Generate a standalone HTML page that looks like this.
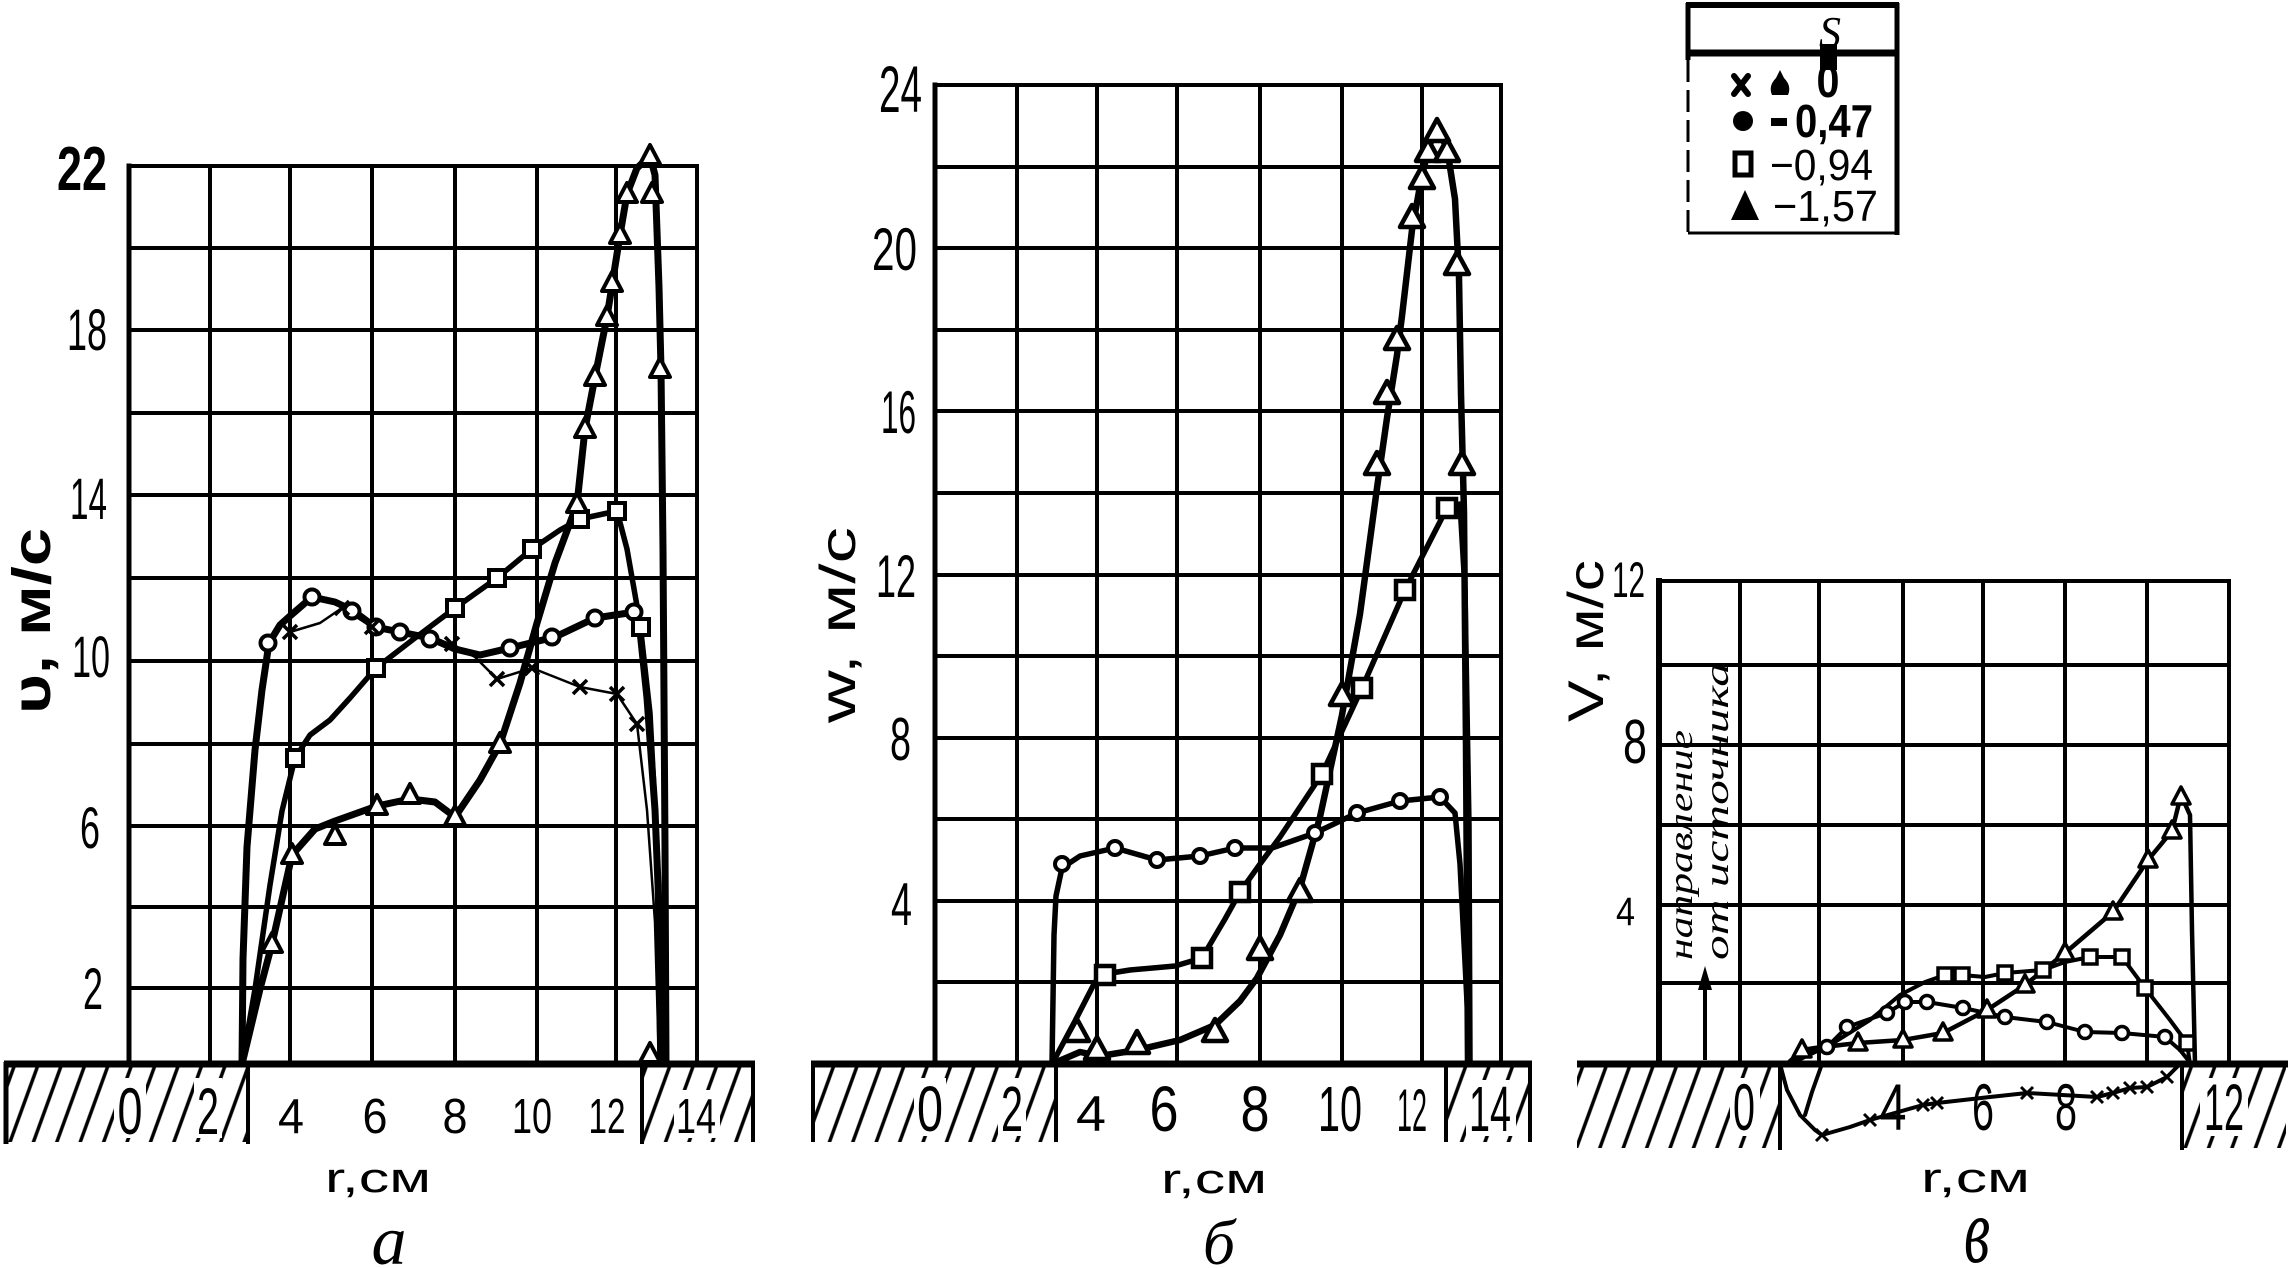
<!DOCTYPE html>
<html>
<head>
<meta charset="utf-8">
<style>
html,body{margin:0;padding:0;background:#fff;}
svg{display:block;}
</style>
</head>
<body>
<svg width="2292" height="1268" viewBox="0 0 2292 1268" xmlns="http://www.w3.org/2000/svg" xmlns:xlink="http://www.w3.org/1999/xlink" font-family="'Liberation Sans', 'DejaVu Sans', sans-serif">
<defs>
  <pattern id="h" patternUnits="userSpaceOnUse" width="22" height="22" patternTransform="rotate(20)">
    <line x1="4" y1="-2" x2="4" y2="24" stroke="#000" stroke-width="3.5"/>
  </pattern>
  <circle id="mc" cx="0" cy="0" r="7.5" fill="#fff" stroke="#000" stroke-width="4"/>
  <rect id="ms" x="-8" y="-8" width="16" height="16" fill="#fff" stroke="#000" stroke-width="4"/>
  <polygon id="mt" points="0,-11 10,8 -10,8" fill="#fff" stroke="#000" stroke-width="4" stroke-linejoin="round"/>
  <g id="mx"><line x1="-7" y1="-7" x2="7" y2="7" stroke="#000" stroke-width="3.5"/><line x1="-7" y1="7" x2="7" y2="-7" stroke="#000" stroke-width="3.5"/></g>
  <rect id="ms2" x="-9" y="-9" width="18" height="18" fill="#fff" stroke="#000" stroke-width="4.5"/>
  <polygon id="mt2" points="0,-13 12,9 -12,9" fill="#fff" stroke="#000" stroke-width="4.5" stroke-linejoin="round"/>
  <circle id="mc2" cx="0" cy="0" r="7" fill="#fff" stroke="#000" stroke-width="4"/>
  <circle id="mc3" cx="0" cy="0" r="6.5" fill="#fff" stroke="#000" stroke-width="3.5"/>
  <rect id="ms3" x="-7" y="-7" width="14" height="14" fill="#fff" stroke="#000" stroke-width="3.5"/>
  <polygon id="mt3" points="0,-10 9,7 -9,7" fill="#fff" stroke="#000" stroke-width="3.5" stroke-linejoin="round"/>
  <g id="mx3"><line x1="-6" y1="-6" x2="6" y2="6" stroke="#000" stroke-width="3"/><line x1="-6" y1="6" x2="6" y2="-6" stroke="#000" stroke-width="3"/></g>
</defs>
<rect width="2292" height="1268" fill="#fff"/>

<!-- ================= HATCHED BASES ================= -->
<g>
  <rect x="6" y="1064" width="242" height="78" fill="url(#h)"/>
  <rect x="642" y="1064" width="111" height="78" fill="url(#h)"/>
  <rect x="813" y="1064" width="243" height="78" fill="url(#h)"/>
  <rect x="1446" y="1064" width="84" height="78" fill="url(#h)"/>
  <rect x="1577" y="1064" width="203" height="84" fill="url(#h)"/>
  <rect x="2182" y="1064" width="104" height="84" fill="url(#h)"/>
  <rect x="114" y="1078" width="32" height="60" fill="#fff"/>
  <rect x="194" y="1078" width="28" height="60" fill="#fff"/>
  <rect x="674" y="1090" width="46" height="48" fill="#fff"/>
  <rect x="914" y="1078" width="32" height="58" fill="#fff"/>
  <rect x="998" y="1078" width="28" height="58" fill="#fff"/>
  <rect x="1466" y="1080" width="50" height="56" fill="#fff"/>
  <rect x="1730" y="1078" width="30" height="58" fill="#fff"/>
  <rect x="2200" y="1078" width="48" height="58" fill="#fff"/>
  <g stroke="#000" fill="none">
    <line x1="6" y1="1062" x2="6" y2="1144" stroke-width="5"/>
    <line x1="248" y1="1062" x2="248" y2="1144" stroke-width="4"/>
    <line x1="642" y1="1062" x2="642" y2="1144" stroke-width="4"/>
    <line x1="753" y1="1062" x2="753" y2="1142" stroke-width="4"/>
    <line x1="813" y1="1062" x2="813" y2="1142" stroke-width="4"/>
    <line x1="1056" y1="1062" x2="1056" y2="1142" stroke-width="4"/>
    <line x1="1446" y1="1062" x2="1446" y2="1142" stroke-width="4"/>
    <line x1="1530" y1="1062" x2="1530" y2="1142" stroke-width="4"/>
    <line x1="1780" y1="1062" x2="1780" y2="1150" stroke-width="4"/>
    <line x1="2182" y1="1062" x2="2182" y2="1150" stroke-width="4"/>
    <line x1="4" y1="1064" x2="755" y2="1064" stroke-width="7"/>
    <line x1="811" y1="1064" x2="1532" y2="1064" stroke-width="7"/>
    <line x1="1577" y1="1064" x2="2288" y2="1064" stroke-width="7"/>
  </g>
</g>

<!-- ================= GRID a ================= -->
<g stroke="#000" stroke-width="4" fill="none" stroke-linecap="square">
  <line x1="129" y1="166" x2="129" y2="1064" stroke-width="5"/>
  <line x1="210" y1="166" x2="210" y2="1064"/>
  <line x1="290" y1="166" x2="290" y2="1064"/>
  <line x1="372" y1="166" x2="372" y2="1064"/>
  <line x1="455" y1="166" x2="455" y2="1064"/>
  <line x1="537" y1="166" x2="537" y2="1064"/>
  <line x1="616" y1="166" x2="616" y2="1064"/>
  <line x1="697" y1="166" x2="697" y2="1064"/>
  <line x1="129" y1="166" x2="697" y2="166"/>
  <line x1="129" y1="248" x2="697" y2="248"/>
  <line x1="129" y1="330" x2="697" y2="330"/>
  <line x1="129" y1="413" x2="697" y2="413"/>
  <line x1="129" y1="495" x2="697" y2="495"/>
  <line x1="129" y1="578" x2="697" y2="578"/>
  <line x1="129" y1="661" x2="697" y2="661"/>
  <line x1="129" y1="744" x2="697" y2="744"/>
  <line x1="129" y1="826" x2="697" y2="826"/>
  <line x1="129" y1="907" x2="697" y2="907"/>
  <line x1="129" y1="988" x2="697" y2="988"/>
</g>

<!-- ================= GRID б ================= -->
<g stroke="#000" stroke-width="4" fill="none" stroke-linecap="square">
  <line x1="935" y1="85" x2="935" y2="1064" stroke-width="5"/>
  <line x1="1017" y1="85" x2="1017" y2="1064"/>
  <line x1="1097" y1="85" x2="1097" y2="1064"/>
  <line x1="1177" y1="85" x2="1177" y2="1064"/>
  <line x1="1260" y1="85" x2="1260" y2="1064"/>
  <line x1="1342" y1="85" x2="1342" y2="1064"/>
  <line x1="1422" y1="85" x2="1422" y2="1064"/>
  <line x1="1501" y1="85" x2="1501" y2="1064"/>
  <line x1="935" y1="85" x2="1501" y2="85"/>
  <line x1="935" y1="167" x2="1501" y2="167"/>
  <line x1="935" y1="248" x2="1501" y2="248"/>
  <line x1="935" y1="330" x2="1501" y2="330"/>
  <line x1="935" y1="411" x2="1501" y2="411"/>
  <line x1="935" y1="493" x2="1501" y2="493"/>
  <line x1="935" y1="575" x2="1501" y2="575"/>
  <line x1="935" y1="656" x2="1501" y2="656"/>
  <line x1="935" y1="738" x2="1501" y2="738"/>
  <line x1="935" y1="819" x2="1501" y2="819"/>
  <line x1="935" y1="901" x2="1501" y2="901"/>
  <line x1="935" y1="982" x2="1501" y2="982"/>
</g>

<!-- ================= GRID в ================= -->
<g stroke="#000" stroke-width="4" fill="none" stroke-linecap="square">
  <line x1="1659" y1="581" x2="1659" y2="1064" stroke-width="6"/>
  <line x1="1740" y1="581" x2="1740" y2="1064"/>
  <line x1="1819" y1="581" x2="1819" y2="1064"/>
  <line x1="1903" y1="581" x2="1903" y2="1064"/>
  <line x1="1983" y1="581" x2="1983" y2="1064"/>
  <line x1="2065" y1="581" x2="2065" y2="1064"/>
  <line x1="2147" y1="581" x2="2147" y2="1064"/>
  <line x1="2229" y1="581" x2="2229" y2="1064"/>
  <line x1="1659" y1="581" x2="2229" y2="581"/>
  <line x1="1659" y1="665" x2="2229" y2="665"/>
  <line x1="1659" y1="745" x2="2229" y2="745"/>
  <line x1="1659" y1="825" x2="2229" y2="825"/>
  <line x1="1659" y1="905" x2="2229" y2="905"/>
  <line x1="1659" y1="983" x2="2229" y2="983"/>
</g>

<!-- ================= CURVES a ================= -->
<g fill="none" stroke="#000" stroke-linejoin="round" stroke-linecap="round">
  <polyline stroke-width="7" points="242,1064 243,959 247,847 255,750 262,690 269,643 280,625 290,616 312,597 335,602 352,610 375,627 400,632 430,638 455,649 480,655 510,648 555,637 595,618 635,612 640,631 647,698 655,810 661,959 662,1064"/>
  <polyline stroke-width="2.5" points="290,632 320,623 342,608 372,627 400,634 430,640 452,644 475,657 497,679 532,668 580,687 617,694 637,724 647,810 655,922 659,1064"/>
  <polyline stroke-width="5.5" points="242,1064 255,989 270,885 282,811 295,758 310,735 330,720 350,698 376,668 415,638 455,608 497,578 532,549 560,530 580,519 617,511 627,549 640,623 650,713 657,847 660,1064"/>
  <polyline stroke-width="7" points="242,1064 260,989 272,944 292,855 315,829 335,821 377,806 410,799 435,802 455,817 480,780 500,744 520,683 537,623 555,563 577,504 585,429 595,377 607,317 620,235 627,194 637,168 650,156 655,175 659,287 661,369 663,549 665,847 666,1064"/>
</g>
<g>
  <use href="#mc" x="268" y="643"/><use href="#mc" x="312" y="597"/><use href="#mc" x="352" y="611"/>
  <use href="#mc" x="376" y="627"/><use href="#mc" x="400" y="632"/><use href="#mc" x="430" y="639"/>
  <use href="#mc" x="510" y="648"/><use href="#mc" x="552" y="637"/><use href="#mc" x="595" y="618"/>
  <use href="#mc" x="634" y="612"/>
  <use href="#mx" x="290" y="632"/><use href="#mx" x="342" y="608"/><use href="#mx" x="372" y="627"/>
  <use href="#mx" x="452" y="644"/><use href="#mx" x="497" y="679"/><use href="#mx" x="532" y="668"/>
  <use href="#mx" x="580" y="687"/><use href="#mx" x="617" y="694"/><use href="#mx" x="637" y="724"/>
  <use href="#ms" x="295" y="758"/><use href="#ms" x="376" y="668"/><use href="#ms" x="455" y="608"/>
  <use href="#ms" x="497" y="578"/><use href="#ms" x="532" y="549"/><use href="#ms" x="580" y="519"/>
  <use href="#ms" x="617" y="511"/><use href="#ms" x="641" y="627"/>
  <use href="#mt" x="272" y="944"/><use href="#mt" x="292" y="855"/><use href="#mt" x="335" y="836"/>
  <use href="#mt" x="377" y="806"/><use href="#mt" x="410" y="795"/><use href="#mt" x="455" y="817"/>
  <use href="#mt" x="500" y="744"/><use href="#mt" x="577" y="504"/><use href="#mt" x="585" y="429"/>
  <use href="#mt" x="595" y="377"/><use href="#mt" x="607" y="317"/><use href="#mt" x="612" y="283"/>
  <use href="#mt" x="620" y="235"/><use href="#mt" x="627" y="194"/><use href="#mt" x="650" y="156"/>
  <use href="#mt" x="652" y="194"/><use href="#mt" x="660" y="369"/><use href="#mt" x="650" y="1054"/>
</g>

<!-- ================= CURVES б ================= -->
<g fill="none" stroke="#000" stroke-linejoin="round" stroke-linecap="round">
  <polyline stroke-width="5.5" points="1052,1064 1054,935 1056,896 1062,868 1080,856 1115,848 1157,860 1200,856 1235,848 1272,848 1315,833 1357,813 1400,801 1440,797 1455,813 1460,864 1466,982 1470,1064"/>
  <polyline stroke-width="5.5" points="1052,1064 1075,1021 1095,982 1105,974 1130,970 1175,966 1202,958 1225,919 1240,892 1260,864 1280,837 1322,774 1362,688 1405,590 1447,508 1460,504 1465,590 1469,825 1470,1064"/>
  <polyline stroke-width="6.5" points="1052,1064 1080,1052 1100,1056 1137,1050 1180,1040 1215,1025 1240,1001 1257,978 1280,935 1300,888 1320,817 1342,715 1360,614 1377,488 1387,418 1397,355 1402,316 1412,230 1422,175 1430,144 1437,128 1447,148 1455,199 1459,277 1461,394 1464,512 1466,747 1468,1064"/>
</g>
<g>
  <use href="#mc2" x="1062" y="864"/><use href="#mc2" x="1115" y="848"/><use href="#mc2" x="1157" y="860"/>
  <use href="#mc2" x="1200" y="856"/><use href="#mc2" x="1235" y="848"/><use href="#mc2" x="1315" y="833"/>
  <use href="#mc2" x="1357" y="813"/><use href="#mc2" x="1400" y="801"/><use href="#mc2" x="1440" y="797"/>
  <use href="#ms2" x="1105" y="975"/><use href="#ms2" x="1202" y="958"/><use href="#ms2" x="1240" y="892"/>
  <use href="#ms2" x="1322" y="774"/><use href="#ms2" x="1362" y="688"/><use href="#ms2" x="1405" y="590"/>
  <use href="#ms2" x="1447" y="508"/>
  <use href="#mt2" x="1077" y="1032"/><use href="#mt2" x="1097" y="1050"/><use href="#mt2" x="1137" y="1044"/>
  <use href="#mt2" x="1215" y="1032"/><use href="#mt2" x="1260" y="950"/><use href="#mt2" x="1300" y="892"/>
  <use href="#mt2" x="1342" y="696"/><use href="#mt2" x="1377" y="465"/><use href="#mt2" x="1387" y="394"/>
  <use href="#mt2" x="1397" y="340"/><use href="#mt2" x="1412" y="218"/><use href="#mt2" x="1422" y="179"/>
  <use href="#mt2" x="1428" y="152"/><use href="#mt2" x="1437" y="132"/><use href="#mt2" x="1447" y="152"/>
  <use href="#mt2" x="1457" y="265"/><use href="#mt2" x="1462" y="465"/>
</g>

<!-- ================= CURVES в ================= -->
<g fill="none" stroke="#000" stroke-linejoin="round" stroke-linecap="round">
  <polyline stroke-width="4.5" points="1787,1064 1802,1050 1815,1048 1858,1043 1903,1040 1943,1033 1987,1010 2025,985 2065,953 2113,912 2148,860 2172,831 2181,795 2190,815 2192,930 2195,1064"/>
  <polyline stroke-width="4" points="1785,1064 1805,1055 1827,1047 1847,1027 1887,1013 1905,1002 1927,1002 1963,1008 2005,1017 2047,1022 2085,1032 2122,1033 2165,1037 2180,1050 2188,1060"/>
  <polyline stroke-width="4" points="1790,1064 1830,1045 1870,1020 1900,995 1925,982 1945,975 1962,975 1985,977 2005,973 2043,970 2065,962 2090,957 2122,957 2145,988 2170,1020 2187,1043 2190,1064"/>
  <polyline stroke-width="4" points="1780,1064 1787,1090 1800,1115 1815,1130 1822,1135 1850,1127 1870,1120 1923,1105 1937,1103 1990,1097 2027,1093 2097,1097 2113,1093 2130,1088 2147,1087 2167,1077 2177,1067"/>
  <polyline stroke-width="4" points="1822,1064 1812,1092 1805,1115"/>
</g>
<g>
  <use href="#mc3" x="1827" y="1047"/><use href="#mc3" x="1847" y="1027"/><use href="#mc3" x="1887" y="1013"/>
  <use href="#mc3" x="1905" y="1002"/><use href="#mc3" x="1927" y="1002"/><use href="#mc3" x="1963" y="1008"/>
  <use href="#mc3" x="2005" y="1017"/><use href="#mc3" x="2047" y="1022"/><use href="#mc3" x="2085" y="1032"/>
  <use href="#mc3" x="2122" y="1033"/><use href="#mc3" x="2165" y="1037"/>
  <use href="#ms3" x="1945" y="975"/><use href="#ms3" x="1962" y="975"/><use href="#ms3" x="2005" y="973"/>
  <use href="#ms3" x="2043" y="970"/><use href="#ms3" x="2090" y="957"/><use href="#ms3" x="2122" y="957"/>
  <use href="#ms3" x="2145" y="988"/><use href="#ms3" x="2187" y="1043"/>
  <use href="#mt3" x="1802" y="1050"/><use href="#mt3" x="1858" y="1043"/><use href="#mt3" x="1903" y="1040"/>
  <use href="#mt3" x="1943" y="1033"/><use href="#mt3" x="1987" y="1010"/><use href="#mt3" x="2025" y="985"/>
  <use href="#mt3" x="2065" y="953"/><use href="#mt3" x="2113" y="912"/><use href="#mt3" x="2148" y="860"/>
  <use href="#mt3" x="2172" y="831"/><use href="#mt3" x="2181" y="797"/>
  <use href="#mx3" x="1822" y="1135"/><use href="#mx3" x="1870" y="1120"/><use href="#mx3" x="1923" y="1105"/>
  <use href="#mx3" x="1937" y="1103"/><use href="#mx3" x="2027" y="1093"/><use href="#mx3" x="2097" y="1097"/>
  <use href="#mx3" x="2113" y="1093"/><use href="#mx3" x="2130" y="1088"/><use href="#mx3" x="2147" y="1087"/>
  <use href="#mx3" x="2167" y="1077"/>
</g>

<!-- ================= LABELS a ================= -->
<g fill="#000">
  <text x="107" y="190" font-size="62" font-weight="bold" text-anchor="end" textLength="50" lengthAdjust="spacingAndGlyphs">22</text>
  <text x="107" y="350" font-size="58" text-anchor="end" textLength="40" lengthAdjust="spacingAndGlyphs">18</text>
  <text x="107" y="519" font-size="58" text-anchor="end" textLength="37" lengthAdjust="spacingAndGlyphs">14</text>
  <text x="110" y="677" font-size="58" text-anchor="end" textLength="38" lengthAdjust="spacingAndGlyphs">10</text>
  <text x="100" y="848" font-size="58" text-anchor="end" textLength="20" lengthAdjust="spacingAndGlyphs">6</text>
  <text x="103" y="1009" font-size="58" text-anchor="end" textLength="20" lengthAdjust="spacingAndGlyphs">2</text>

  <text x="130" y="1134" font-size="66" text-anchor="middle" textLength="25" lengthAdjust="spacingAndGlyphs">0</text>
  <text x="208" y="1134" font-size="66" text-anchor="middle" textLength="22" lengthAdjust="spacingAndGlyphs">2</text>
  <text x="291" y="1133" font-size="49" text-anchor="middle" textLength="26" lengthAdjust="spacingAndGlyphs">4</text>
  <text x="375" y="1133" font-size="49" text-anchor="middle" textLength="25" lengthAdjust="spacingAndGlyphs">6</text>
  <text x="455" y="1133" font-size="49" text-anchor="middle" textLength="25" lengthAdjust="spacingAndGlyphs">8</text>
  <text x="532" y="1133" font-size="49" text-anchor="middle" textLength="40" lengthAdjust="spacingAndGlyphs">10</text>
  <text x="607" y="1133" font-size="49" text-anchor="middle" textLength="37" lengthAdjust="spacingAndGlyphs">12</text>
  <text x="696" y="1133" font-size="49" text-anchor="middle" textLength="40" lengthAdjust="spacingAndGlyphs">14</text>

  <text transform="translate(50,714) rotate(-90)" font-size="54" font-weight="bold" textLength="186" lengthAdjust="spacingAndGlyphs">υ, м/с</text>
  <text x="325" y="1192" font-size="42" textLength="106" lengthAdjust="spacingAndGlyphs">r,см</text>
  <text x="389" y="1264" font-size="70" font-style="italic" font-family="'Liberation Serif', serif" text-anchor="middle">а</text>
</g>

<!-- ================= LABELS б ================= -->
<g fill="#000">
  <text x="922" y="112" font-size="66" text-anchor="end" textLength="43" lengthAdjust="spacingAndGlyphs">24</text>
  <text x="917" y="270" font-size="60" text-anchor="end" textLength="45" lengthAdjust="spacingAndGlyphs">20</text>
  <text x="916" y="433" font-size="60" text-anchor="end" textLength="35" lengthAdjust="spacingAndGlyphs">16</text>
  <text x="916" y="597" font-size="60" text-anchor="end" textLength="40" lengthAdjust="spacingAndGlyphs">12</text>
  <text x="911" y="760" font-size="60" text-anchor="end" textLength="21" lengthAdjust="spacingAndGlyphs">8</text>
  <text x="912" y="925" font-size="60" text-anchor="end" textLength="21" lengthAdjust="spacingAndGlyphs">4</text>

  <text x="930" y="1131" font-size="64" text-anchor="middle" textLength="26" lengthAdjust="spacingAndGlyphs">0</text>
  <text x="1012" y="1131" font-size="64" text-anchor="middle" textLength="22" lengthAdjust="spacingAndGlyphs">2</text>
  <text x="1091" y="1131" font-size="50" text-anchor="middle" textLength="30" lengthAdjust="spacingAndGlyphs">4</text>
  <text x="1164" y="1131" font-size="64" text-anchor="middle" textLength="29" lengthAdjust="spacingAndGlyphs">6</text>
  <text x="1255" y="1131" font-size="64" text-anchor="middle" textLength="29" lengthAdjust="spacingAndGlyphs">8</text>
  <text x="1340" y="1131" font-size="64" text-anchor="middle" textLength="44" lengthAdjust="spacingAndGlyphs">10</text>
  <text x="1412" y="1131" font-size="60" text-anchor="middle" textLength="30" lengthAdjust="spacingAndGlyphs">12</text>
  <text x="1490" y="1131" font-size="64" text-anchor="middle" textLength="42" lengthAdjust="spacingAndGlyphs">14</text>

  <text transform="translate(855,723) rotate(-90)" font-size="50" textLength="196" lengthAdjust="spacingAndGlyphs">w, м/с</text>
  <text x="1161" y="1193" font-size="42" textLength="106" lengthAdjust="spacingAndGlyphs">r,см</text>
  <text x="1219" y="1264" font-size="64" font-style="italic" font-family="'Liberation Serif', serif" text-anchor="middle">б</text>
</g>

<!-- ================= LABELS в ================= -->
<g fill="#000">
  <text x="1645" y="597" font-size="50" text-anchor="end" textLength="33" lengthAdjust="spacingAndGlyphs">12</text>
  <text x="1647" y="763" font-size="62" text-anchor="end" textLength="24" lengthAdjust="spacingAndGlyphs">8</text>
  <text x="1635" y="925" font-size="40" text-anchor="end" textLength="19" lengthAdjust="spacingAndGlyphs">4</text>

  <text x="1744" y="1130" font-size="66" text-anchor="middle" textLength="22" lengthAdjust="spacingAndGlyphs">0</text>
  <text x="1893" y="1130" font-size="66" text-anchor="middle" textLength="27" lengthAdjust="spacingAndGlyphs">4</text>
  <text x="1983" y="1130" font-size="66" text-anchor="middle" textLength="22" lengthAdjust="spacingAndGlyphs">6</text>
  <text x="2066" y="1130" font-size="66" text-anchor="middle" textLength="22" lengthAdjust="spacingAndGlyphs">8</text>
  <text x="2224" y="1130" font-size="66" text-anchor="middle" textLength="40" lengthAdjust="spacingAndGlyphs">12</text>

  <text transform="translate(1603,722) rotate(-90)" font-size="50" textLength="162" lengthAdjust="spacingAndGlyphs">V, м/с</text>
  <text transform="translate(1692,960) rotate(-90)" font-size="34" font-style="italic" font-family="'Liberation Serif', serif" textLength="230" lengthAdjust="spacingAndGlyphs">направление</text>
  <text transform="translate(1728,960) rotate(-90)" font-size="34" font-style="italic" font-family="'Liberation Serif', serif" textLength="298" lengthAdjust="spacingAndGlyphs">от источника</text>
  <line x1="1705" y1="1060" x2="1705" y2="984" stroke="#000" stroke-width="4"/>
  <polygon points="1698,990 1712,990 1705,966" fill="#000"/>

  <text x="1921" y="1192" font-size="42" textLength="109" lengthAdjust="spacingAndGlyphs">r,см</text>
  <text transform="translate(1977,1262) scale(1,1.55)" font-size="60" font-style="italic" font-family="'Liberation Serif', serif" text-anchor="middle">в</text>
</g>

<!-- ================= LEGEND ================= -->
<g>
  <line x1="1686" y1="5" x2="1899" y2="5" stroke="#000" stroke-width="6"/>
  <line x1="1897" y1="3" x2="1897" y2="235" stroke="#000" stroke-width="5"/>
  <line x1="1688" y1="3" x2="1688" y2="60" stroke="#000" stroke-width="5"/>
  <line x1="1688" y1="60" x2="1688" y2="233" stroke="#000" stroke-width="3" stroke-dasharray="22 8"/>
  <line x1="1686" y1="53" x2="1899" y2="53" stroke="#000" stroke-width="7"/>
  <line x1="1688" y1="233" x2="1897" y2="233" stroke="#000" stroke-width="3"/>
  <text x="1830" y="47" font-size="44" font-style="italic" font-family="'Liberation Serif', serif" text-anchor="middle">S</text>
  <rect x="1820" y="44" width="17" height="26" fill="#000"/>
  <g stroke="#000" stroke-width="6" stroke-linecap="round">
    <line x1="1734" y1="76" x2="1748" y2="94"/><line x1="1734" y1="94" x2="1748" y2="76"/>
  </g>
  <path d="M1780,70 L1784,78 Q1792,86 1788,95 L1772,95 Q1768,86 1776,78 Z" fill="#000"/>
  <text x="1828" y="97" font-size="46" font-weight="bold" text-anchor="middle" textLength="23" lengthAdjust="spacingAndGlyphs">0</text>
  <circle cx="1743" cy="121" r="10" fill="#000"/>
  <line x1="1771" y1="122" x2="1787" y2="122" stroke="#000" stroke-width="8"/>
  <text x="1795" y="137" font-size="46" font-weight="bold" textLength="78" lengthAdjust="spacingAndGlyphs">0,47</text>
  <rect x="1735" y="153" width="16" height="22" fill="#fff" stroke="#000" stroke-width="5"/>
  <text x="1770" y="180" font-size="44" textLength="103" lengthAdjust="spacingAndGlyphs">−0,94</text>
  <polygon points="1731,220 1759,220 1745,190" fill="#000"/>
  <text x="1773" y="221" font-size="44" textLength="105" lengthAdjust="spacingAndGlyphs">−1,57</text>
</g>
</svg>
</body>
</html>
